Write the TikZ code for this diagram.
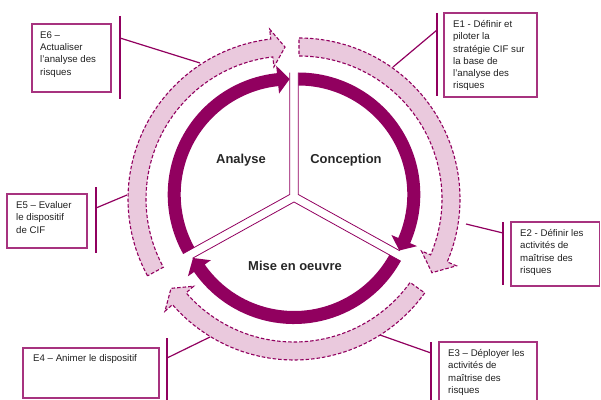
\documentclass[tikz,border=0pt]{standalone}
\usepackage{fontspec}
\setmainfont{Liberation Sans}
\usetikzlibrary{calc}
\definecolor{cifplum}{RGB}{145,0,95}
\definecolor{cifpink}{RGB}{234,201,221}
\def\blockarc[#1](#2)(#3:#4:#5)(#6:#7:#8){\draw[#1] ($(#2)+(#3:#7)$) arc (#3:#4:#7) -- ($(#2)+(#4:{#7+#8})$) -- ($(#2)+(#5:{(#6+#7)/2})$) -- ($(#2)+(#4:{#6-#8})$) -- ($(#2)+(#4:#6)$) arc (#4:#3:#6) -- cycle;}

\begin{document}
\begin{tikzpicture}[x=1bp, y=1bp,
		ringarrow/.style={draw=cifplum, fill=cifpink, line width=1.1bp, dash pattern=on 3.5bp off 2bp},
		cyclearrow/.style={fill=cifplum, draw=none},
		sectorline/.style={draw=cifplum, line width=0.8bp},
		callbox/.style={draw=cifplum!80, line width=1.1bp},
		callbar/.style={draw=cifplum, line width=2bp},
		callline/.style={draw=cifplum, line width=1.2bp},
		calltext/.style={anchor=north west, inner sep=0pt, align=left, text=black!88, font=\fontsize{9.7}{12.3}\selectfont},
		phase/.style={font=\fontsize{13}{15}\selectfont\bfseries, text=black!85}]
			%%%%% START %%%%%
			
			\useasboundingbox (0,0) rectangle (601,399);
			
			\coordinate (cA) at (289.7,204.5);
			\coordinate (cC) at (298.3,204.5);
			\coordinate (cM) at (294,197);
			\coordinate (oA) at (289,200);
			\coordinate (oC) at (299,200);
			\coordinate (oM) at (294,200);
			
			% callouts
			\coordinate (e6bar) at (120,361); \coordinate (e6ring) at (200,336);
			\coordinate (e1bar) at (437,369); \coordinate (e1ring) at (393,332);
			\coordinate (e2bar) at (503,166); \coordinate (e2ring) at (466,175);
			\coordinate (e3bar) at (431,46); \coordinate (e3ring) at (380,64);
			\coordinate (e4bar) at (167,41); \coordinate (e4ring) at (210,62);
			\coordinate (e5bar) at (96,191); \coordinate (e5ring) at (127,204);
			
			\draw[callbox] (32,375) rectangle (111,307);
			\draw[callbar] (120,383) -- (120,300);
			\draw[callline] (e6bar) -- (e6ring);
			\node[calltext] (e6) at (40,367.6) {E6 –\\Actualiser\\l’analyse des\\risques};
			
			\draw[callbox] (444,386) rectangle (537,302);
			\draw[callbar] (437,386) -- (437,303);
			\draw[callline] (e1bar) -- (e1ring);
			\node[calltext] (e1) at (453,378.6) {E1 - Définir et\\piloter la\\stratégie CIF sur\\la base de\\l’analyse des\\risques};
			
			\draw[callbox] (511,177) rectangle (599.5,113);
			\draw[callbar] (503,177) -- (503,114);
			\draw[callline] (e2bar) -- (e2ring);
			\node[calltext] (e2) at (520,169.6) {E2 - Définir les\\activités de\\maîtrise des\\risques};
			
			\draw[callbox] (439,57) rectangle (537,-3);
			\draw[callbar] (431,57) -- (431,-2);
			\draw[callline] (e3bar) -- (e3ring);
			\node[calltext] (e3) at (448,49.6) {E3 – Déployer les\\activités de\\maîtrise des\\risques};
			
			\draw[callbox] (23,51) rectangle (159,1);
			\draw[callbar] (167,61) -- (167,-2);
			\draw[callline] (e4bar) -- (e4ring);
			\node[calltext] (e4) at (33,44.6) {E4 – Animer le dispositif};
			
			\draw[callbox] (7,205) rectangle (87,151);
			\draw[callbar] (96,212) -- (96,146);
			\draw[callline] (e5bar) -- (e5ring);
			\node[calltext] (e5) at (16,197.6) {E5 – Evaluer\\le dispositif\\de CIF};
			
			% outer ring
			\blockarc[ringarrow](oA)(208.5:96.5:91.5)(143:161:10)
			\blockarc[ringarrow](oC)(90:-23:-29)(143:161:10)
			\blockarc[ringarrow](oM)(324.3:221:216)(143:161:10)
			
			% inner sectors
			\draw[sectorline] ($(cA)+(90:122)$) -- (cA) -- ($(cA)+(209:122)$);
			\draw[sectorline] ($(cC)+(90:122)$) -- (cC) -- ($(cC)+(-29:116)$);
			\draw[sectorline] ($(cM)+(-29:122)$) -- (cM) -- ($(cM)+(209:116)$);
			
			\blockarc[cyclearrow](cA)(209:96:90)(109:122:7.5)
			\blockarc[cyclearrow](cC)(90:-23.5:-29)(109:122:7.5)
			\blockarc[cyclearrow](cM)(331:215:209)(109:122:7.5)
			
			\node[phase] (analyse) at (241,239) {Analyse};
			\node[phase] (conception) at (346,239) {Conception};
			\node[phase] (mise) at (295,133) {Mise en oeuvre};
			
			%%%%% END %%%%%
\end{tikzpicture}
\end{document}
